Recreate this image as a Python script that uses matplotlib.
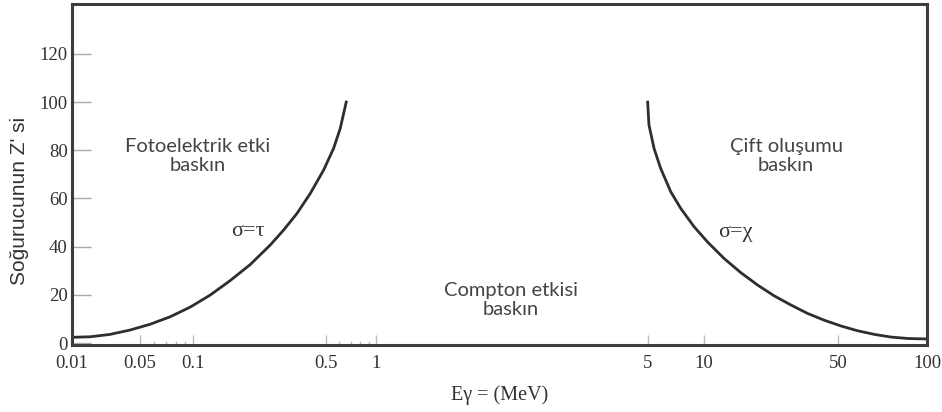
import numpy as np
import matplotlib
matplotlib.use("Agg")
import matplotlib.pyplot as plt
from matplotlib.ticker import FixedLocator, NullFormatter

# sınır eğrileri (enerji MeV, Z)
foto_E = [0.01, 0.0153, 0.0246, 0.0394, 0.0570, 0.0740, 0.0961, 0.1228, 0.1563, 0.1995,
          0.2541, 0.2985, 0.3509, 0.4121, 0.4842, 0.5533, 0.6067, 0.659]
foto_Z = [2.4, 2.6, 3.6, 5.4, 7.8, 10.9, 14.9, 19.9, 25.9, 32.6,
          40.7, 46.9, 53.8, 62.1, 71.8, 80.8, 89.1, 100]

cift_E = [5.0, 5.08, 5.41, 5.87, 6.65, 7.52, 8.87, 10.45, 12.76, 15.61, 19.06,
          23.27, 28.46, 34.73, 42.39, 51.2, 58.3, 66.4, 75.5, 86.1, 100]
cift_Z = [100, 90.5, 80.8, 72.5, 62.8, 55.9, 48.3, 42.0, 35.1, 29.2, 24.1,
          19.6, 15.8, 12.3, 9.5, 7.1, 5.1, 3.6, 2.5, 1.9, 1.7]

x_ticks = [0.01, 0.05, 0.1, 0.5, 1, 5, 10, 50, 100]
x_labels = ["0.01", "0.05", "0.1", "0.5", "1", "5", "10", "50", "100"]
x_minor = [0.06, 0.07, 0.08, 0.09, 0.6, 0.7, 0.8, 0.9]
y_ticks = [0, 20, 40, 60, 80, 100, 120]

# orijinal şekildeki eksen elle çizilmiş: log değerleri -> eksen oranı
log_anchor = np.log10(x_ticks)
frac_anchor = np.array([0, 0.0796, 0.1417, 0.2974, 0.3560, 0.6733, 0.7389, 0.8958, 1.0])


def fwd(x):
    x = np.asarray(x, dtype=float)
    return np.interp(np.log10(np.clip(x, 1e-9, None)), log_anchor, frac_anchor)


def inv(f):
    return 10 ** np.interp(np.asarray(f, dtype=float), frac_anchor, log_anchor)


serif = "Liberation Serif"
grey = "#3c3c3c"

fig = plt.figure(figsize=(9.42, 4.12), dpi=100)
ax = fig.add_axes([72 / 942, 1 - 345 / 412, (927 - 72) / 942, (345 - 4) / 412])
ax.set_xscale("function", functions=(fwd, inv))
ax.set_xlim(0.01, 100)
ax.set_ylim(-0.8, 140.7)

ax.plot(foto_E, foto_Z, color="#2e2e2e", lw=2)
ax.plot(cift_E, cift_Z, color="#2e2e2e", lw=2)

for s in ax.spines.values():
    s.set_linewidth(2.2)
    s.set_color(grey)

ax.xaxis.set_major_locator(FixedLocator(x_ticks))
ax.set_xticklabels(x_labels, fontfamily=serif, fontsize=13.5, color="#333")
ax.xaxis.set_minor_locator(FixedLocator(x_minor))
ax.xaxis.set_minor_formatter(NullFormatter())
ax.tick_params(axis="x", which="major", direction="in", length=7, width=1, color="#bbbbbb", pad=7)
ax.tick_params(axis="x", which="minor", direction="in", length=3, width=1, color="#bbbbbb")

ax.set_yticks(y_ticks)
ax.set_yticklabels([str(v) for v in y_ticks], fontfamily=serif, fontsize=13.5, color="#333")
ax.tick_params(axis="y", direction="in", length=14, width=1, color="#aaaaaa", pad=3)

ax.set_xlabel("Eγ = (MeV)", fontfamily=serif, fontsize=14.5, color="#333", labelpad=10)
fig.text(20 / 942, 1 - 201 / 412, "Soğurucunun Z' si", rotation=90, ha="center", va="center",
         fontfamily="Liberation Sans", fontsize=15, color="#333")

sans = "Lato"
lab = dict(ha="center", va="center", fontfamily=sans, fontsize=14.5, color="#444", linespacing=1.15)
fig.text(198 / 942, 1 - 156 / 412, "Fotoelektrik etki\nbaskın", **lab)
fig.text(511 / 942, 1 - 300 / 412, "Compton etkisi\nbaskın", **lab)
fig.text(786 / 942, 1 - 156 / 412, "Çift oluşumu\nbaskın", **lab)
fig.text(248 / 942, 1 - 232 / 412, "σ=τ", ha="center", va="center", fontfamily=serif, fontsize=16, color="#333")
fig.text(735 / 942, 1 - 232 / 412, "σ=χ", ha="center", va="center", fontfamily=serif, fontsize=16, color="#333")

plt.savefig("out.png", dpi=100)
